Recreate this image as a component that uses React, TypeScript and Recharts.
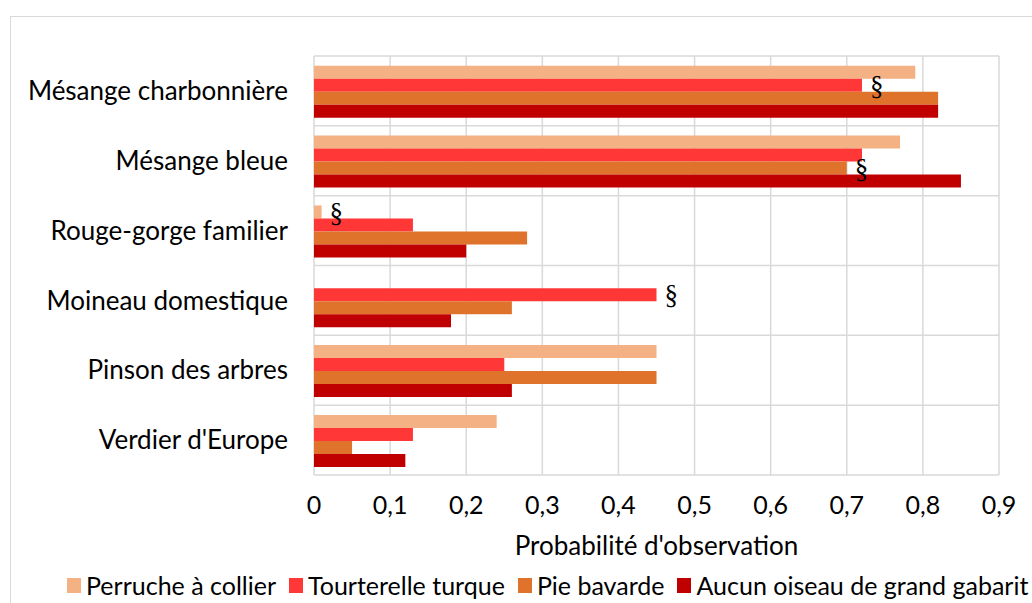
import { BarChart, Bar, XAxis, YAxis, CartesianGrid, Legend, LabelList, Label } from "recharts";

const species = [
  "Mésange charbonnière",
  "Mésange bleue",
  "Rouge-gorge familier",
  "Moineau domestique",
  "Pinson des arbres",
  "Verdier d'Europe",
];
const perruche = [0.79, 0.77, 0.01, 0, 0.45, 0.24];
const tourterelle = [0.72, 0.72, 0.13, 0.45, 0.25, 0.13];
const pie = [0.82, 0.7, 0.28, 0.26, 0.45, 0.05];
const aucun = [0.82, 0.85, 0.2, 0.18, 0.26, 0.12];

// § = significant difference marks
const perrucheMark = ["", "", "§", "", "", ""];
const tourterelleMark = ["§", "", "", "§", "", ""];
const pieMark = ["", "§", "", "", "", ""];
const aucunMark = ["", "", "", "", "", ""];

const xTicks = [0, 0.1, 0.2, 0.3, 0.4, 0.5, 0.6, 0.7, 0.8, 0.9];

const series = [
  { key: "perruche", mark: "perrucheMark", name: "Perruche à collier", color: "#F4B183" },
  { key: "tourterelle", mark: "tourterelleMark", name: "Tourterelle turque", color: "#FF3737" },
  { key: "pie", mark: "pieMark", name: "Pie bavarde", color: "#E0732B" },
  { key: "aucun", mark: "aucunMark", name: "Aucun oiseau de grand gabarit", color: "#C00000" },
];

const data = species.map((s, i) => ({
  species: s,
  perruche: perruche[i],
  tourterelle: tourterelle[i],
  pie: pie[i],
  aucun: aucun[i],
  perrucheMark: perrucheMark[i],
  tourterelleMark: tourterelleMark[i],
  pieMark: pieMark[i],
  aucunMark: aucunMark[i],
}));

const font = "Lato, 'Open Sans', sans-serif";

const fmt = (v: number) => (v === 0 ? "0" : String(v).replace(".", ","));

function LegendContent() {
  return (
    <div style={{ display: "flex", fontFamily: font, fontSize: 25, lineHeight: "26px", color: "#000", whiteSpace: "nowrap" }}>
      {series.map((s) => (
        <div key={s.key} style={{ display: "flex", alignItems: "center", marginRight: 13 }}>
          <span style={{ width: 14, height: 15, background: s.color, marginRight: 5, display: "inline-block" }} />
          <span>{s.name}</span>
        </div>
      ))}
    </div>
  );
}

export default function App() {
  return (
    <div style={{ position: "fixed", left: 0, top: 0, width: 1032, height: 603, overflow: "hidden", background: "#fff" }}>
      <div
        style={{
          position: "absolute",
          left: 10,
          top: 16,
          width: 1100,
          height: 700,
          border: "1px solid #d9d9d9",
        }}
      />
      <div style={{ position: "absolute", left: 0, top: 0 }}>
        <BarChart
          width={1032}
          height={603}
          data={data}
          layout="vertical"
          margin={{ top: 56, right: 33, left: 0, bottom: 38 }}
          barCategoryGap="14%"
          barGap={0}
        >
          <CartesianGrid
            stroke="#d9d9d9"
            strokeWidth={1.5}
            horizontalCoordinatesGenerator={({ offset }: any) =>
              species.map((_, i) => offset.top + (offset.height * i) / species.length).concat(offset.top + offset.height)
            }
          />
          <XAxis
            type="number"
            domain={[0, 0.9]}
            ticks={xTicks}
            tickFormatter={fmt}
            axisLine={false}
            tickLine={false}
            tickMargin={15}
            height={90}
            tick={{ fontSize: 25, fontFamily: font, fill: "#000" }}
          >
            <Label
              value="Probabilité d'observation"
              position="insideBottom"
              offset={10}
              style={{ fontSize: 26, fontFamily: font, fill: "#000" }}
            />
          </XAxis>
          <YAxis
            type="category"
            dataKey="species"
            width={314}
            interval={0}
            axisLine={false}
            tickLine={false}
            tickMargin={20}
            tick={{ fontSize: 26, fontFamily: font, fill: "#000" }}
          />
          <Legend
            layout="horizontal"
            verticalAlign="middle"
            align="center"
            wrapperStyle={{ top: 572, left: 67, width: "auto" }}
            content={() => <LegendContent />}
          />
          {series.map((s) => (
            <Bar key={s.key} dataKey={s.key} name={s.name} fill={s.color} isAnimationActive={false}>
              <LabelList
                dataKey={s.mark}
                position="right"
                offset={8}
                style={{ fontSize: 27, fontFamily: "'Liberation Serif', serif", fill: "#000" }}
              />
            </Bar>
          ))}
        </BarChart>
      </div>
    </div>
  );
}
